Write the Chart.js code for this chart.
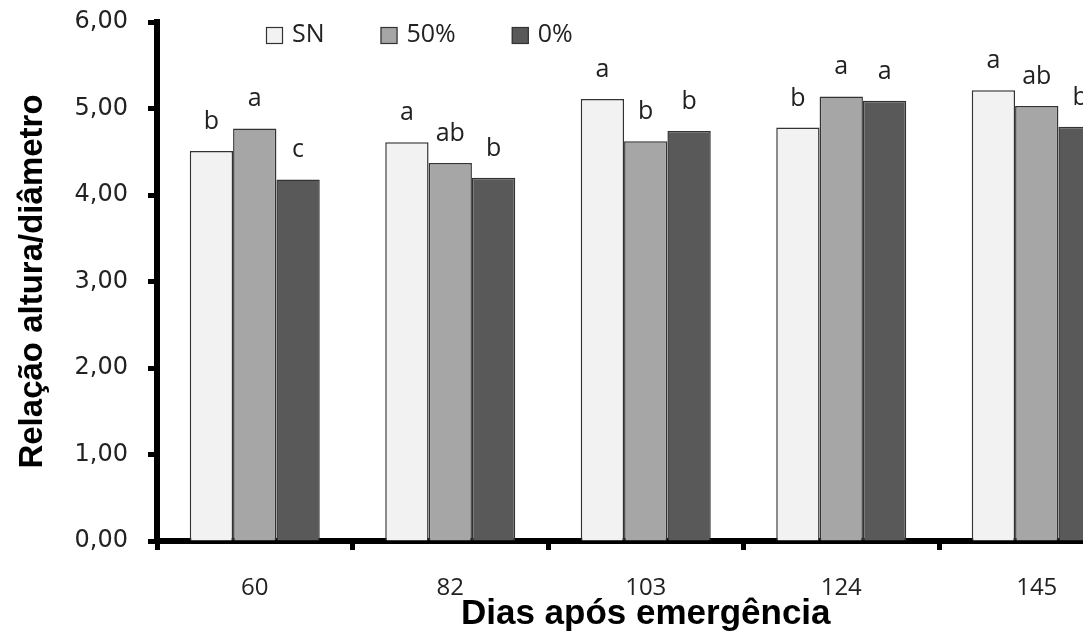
<!DOCTYPE html>
<html>
<head>
<meta charset="utf-8">
<script src="https://cdn.jsdelivr.net/npm/chart.js@4.4.1/dist/chart.umd.min.js"></script>
<style>
  html, body { margin: 0; padding: 0; background: #fff; overflow: hidden; }
  #wrap { width: 1140px; height: 635px; position: relative; }
</style>
</head>
<body>
<div id="wrap"><canvas id="chart"></canvas></div>
<script>
/* ===== DATA ===== */
const days = ["60", "82", "103", "124", "145"];
const seriesNames = ["SN", "50%", "0%"];

const valuesSN  = [4.51, 4.61, 5.11, 4.78, 5.21];
const values50  = [4.77, 4.37, 4.62, 5.14, 5.03];
const values0   = [4.18, 4.20, 4.74, 5.09, 4.79];

// letras do teste de médias
const lettersSN = ["b", "a", "a", "b", "a"];
const letters50 = ["a", "ab", "b", "a", "ab"];
const letters0  = ["c", "b", "b", "a", "b"];

const yTickLabels = ["0,00", "1,00", "2,00", "3,00", "4,00", "5,00", "6,00"];

const fills = ["#f2f2f2", "#a6a6a6", "#595959"];

/* ===== PLUGINS ===== */
// letters above bars
const letterPlugin = {
  id: "letters",
  afterDatasetsDraw(chart) {
    const ctx = chart.ctx;
    const all = [lettersSN, letters50, letters0];
    ctx.save();
    ctx.font = "25px 'Open Sans'";
    ctx.fillStyle = "#222";
    ctx.textAlign = "center";
    ctx.textBaseline = "alphabetic";
    chart.data.datasets.forEach((ds, i) => {
      chart.getDatasetMeta(i).data.forEach((bar, j) => {
        ctx.fillText(all[i][j], bar.x, bar.y - 22);
      });
    });
    ctx.restore();
  }
};

// legend drawn inside the plot, top
const legendPlugin = {
  id: "legendInside",
  afterDraw(chart) {
    const ctx = chart.ctx;
    ctx.save();
    ctx.font = "25px 'Open Sans'";
    ctx.textBaseline = "middle";
    ctx.textAlign = "left";
    let x = 266;
    const y = 35;
    chart.data.datasets.forEach((ds) => {
      ctx.fillStyle = ds.backgroundColor;
      ctx.fillRect(x, y - 8, 17, 17);
      ctx.strokeStyle = "#333";
      ctx.lineWidth = 1.2;
      ctx.strokeRect(x + 0.5, y - 7.5, 16, 16);
      ctx.fillStyle = "#222";
      ctx.fillText(ds.label, x + 26, y);
      x += 26 + ctx.measureText(ds.label).width + 56;
    });
    ctx.restore();
  }
};

/* ===== CHART ===== */
const ctx = document.getElementById("chart").getContext("2d");

new Chart(ctx, {
  type: "bar",
  data: {
    labels: days,
    datasets: [
      { label: seriesNames[0], data: valuesSN, backgroundColor: fills[0] },
      { label: seriesNames[1], data: values50, backgroundColor: fills[1] },
      { label: seriesNames[2], data: values0,  backgroundColor: fills[2] }
    ].map(d => Object.assign(d, {
      borderColor: "#333",
      borderWidth: 1.5,
      categoryPercentage: 0.665,
      barPercentage: 1.0
    }))
  },
  options: {
    responsive: true,
    maintainAspectRatio: false,
    animation: false,
    layout: { padding: { top: 22, right: 5.5, left: 0, bottom: 0 } },
    plugins: {
      legend: { display: false },
      tooltip: { enabled: false }
    },
    scales: {
      x: {
        z: 1,
        afterFit(scale) { scale.height = 94; },
        grid: {
          offset: true,
          drawOnChartArea: false,
          drawTicks: true,
          tickLength: 9,
          tickWidth: 5,
          tickColor: "#000"
        },
        border: { display: true, color: "#000", width: 6 },
        ticks: {
          color: "#222",
          padding: 24,
          font: { family: "'Open Sans'", size: 24 }
        },
        title: {
          display: true,
          text: "Dias após emergência",
          color: "#000",
          padding: { top: 0, bottom: 0 },
          font: { family: "'Liberation Sans', Arial", size: 35, weight: "bold" }
        }
      },
      y: {
        z: 1,
        min: 0,
        max: 6,
        afterFit(scale) {
          scale.width = 157;
          scale.paddingTop = 0;
          scale.paddingBottom = 0;
        },
        grid: {
          drawOnChartArea: false,
          drawTicks: true,
          tickLength: 9,
          tickWidth: 5,
          tickColor: "#000"
        },
        border: { display: true, color: "#000", width: 6 },
        ticks: {
          stepSize: 1,
          color: "#222",
          padding: 20,
          font: { family: "'DejaVu Sans'", size: 24 },
          callback: (v, i) => yTickLabels[i]
        },
        title: {
          display: true,
          text: "Relação altura/diâmetro",
          color: "#000",
          padding: { top: 13, bottom: 13 },
          font: { family: "'Liberation Sans', Arial", size: 33, weight: "bold" }
        }
      }
    }
  },
  plugins: [letterPlugin, legendPlugin]
});
</script>
</body>
</html>
